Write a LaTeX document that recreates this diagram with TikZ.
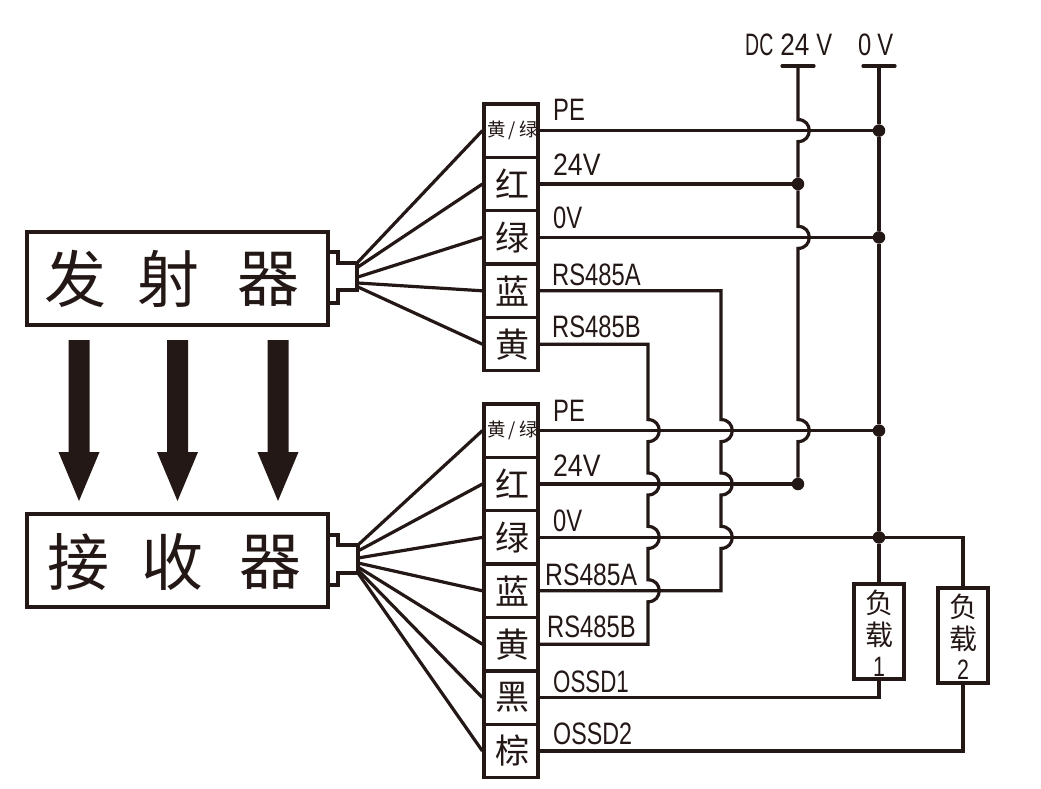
\documentclass[tikz,border=0pt]{standalone}
\usepackage{fontspec}
\usetikzlibrary{calc}
\newfontfamily\cjk{Noto Sans CJK SC}
\newfontfamily\lat[FakeStretch=0.766]{Liberation Sans}
\definecolor{ink}{HTML}{231815}
\newcommand\hp[2]{-- ($(#1 |- #2)+(0,-11)$) .. controls ($(#1 |- #2)+(15,-11)$) and ($(#1 |- #2)+(15,11)$) .. ($(#1 |- #2)+(0,11)$)}
\newcommand\ct[1]{\raisebox{-1.5pt}{\hspace{2pt}#1}}
\newcommand\yg{\raisebox{-0.5pt}{\hspace{3pt}\makebox[0pt]{黄\makebox[14pt]{/}绿}}}
\tikzset{
  wire/.style={draw=ink,line width=3.2pt,line join=miter},
  box/.style={draw=ink,line width=3.2pt,fill=white,inner sep=0pt,text=ink},
  cell/.style={box,minimum width=54pt,minimum height=53.2pt,font=\cjk\fontsize{34}{34}\selectfont},
  small/.style={font=\cjk\fontsize{18.5}{18.5}\selectfont},
  title/.style={text=ink,inner sep=0pt,font=\cjk\fontsize{62}{62}\selectfont},
  lab/.style={text=ink,inner sep=0pt,anchor=west,font=\lat\fontsize{31}{31}\selectfont},
  loadtxt/.style={text=ink,inner sep=0pt,font=\cjk\fontsize{28}{28}\selectfont},
  dot/.style={circle,fill=ink,draw=none,minimum size=12.5pt,inner sep=0pt},
  beam/.style={fill=ink,draw=none}
}
\begin{document}
\begin{tikzpicture}[x=1pt,y=-1pt]
\useasboundingbox (0,0) rectangle (1041,789);
\fill[white] (0,0) rectangle (1041,789);
% emitter / receiver
\node[box,minimum width=301pt,minimum height=93pt] (tx) at (177.5,278.5) {};
\node[box,minimum width=301pt,minimum height=93pt] (rx) at (177.5,560.5) {};
\node[title] (t1) at (75,279) {发};
\node[title] (t2) at (168,279) {射};
\node[title] (t3) at (268,279) {器};
\node[title] (r1) at (78,562) {接};
\node[title] (r2) at (172,562) {收};
\node[title] (r3) at (270,562) {器};
\draw[wire] (tx.east |- 0,252) -- (338,252) -- (338,263) -- (357,263) -- (357,290) -- (338,290) -- (338,303) -- (tx.east |- 0,303);
\draw[wire] (rx.east |- 0,535) -- (338,535) -- (338,545) -- (358,545) -- (358,573) -- (338,573) -- (338,585) -- (rx.east |- 0,585);
% beams
\foreach \x/\n in {79/a,177.5/b,278/c}{
  \fill[beam] (\x-10.5,340) -- (\x+10.5,340) -- (\x+10.5,452) -- (\x+20.5,452) -- (\x,501) -- (\x-20.5,452) -- (\x-10.5,452) -- cycle;
}
% upper stack
\node[cell,small] (a1) at (511,130.6) {\yg};
\node[cell] (a2) at (511,184) {\ct{红}};
\node[cell] (a3) at (511,237.4) {\ct{绿}};
\node[cell] (a4) at (511,290.8) {\ct{蓝}};
\node[cell] (a5) at (511,344.2) {\ct{黄}};
% lower stack
\node[cell,small] (b1) at (511,430.6) {\yg};
\node[cell] (b2) at (511,484) {\ct{红}};
\node[cell] (b3) at (511,537.4) {\ct{绿}};
\node[cell] (b4) at (511,590.8) {\ct{蓝}};
\node[cell] (b5) at (511,644.2) {\ct{黄}};
\node[cell] (b6) at (511,697.6) {\ct{黑}};
\node[cell] (b7) at (511,751) {\ct{棕}};
% fan
\foreach \c/\y in {a1/262,a2/267,a3/277,a4/283,a5/287}{
  \coordinate (f\c) at (358,\y);
  \draw[wire] (f\c) -- (\c.west);
}
\foreach \c/\y in {b1/545,b2/551,b3/558,b4/563,b5/567,b6/570,b7/573}{
  \coordinate (f\c) at (358,\y);
  \draw[wire] (f\c) -- (\c.west);
}
% rail coordinates
\coordinate (rb) at (648,0);
\coordinate (ra) at (721,0);
\coordinate (rp) at (798,66);
\coordinate (rn) at (879,66);
\coordinate (rq) at (963,0);
\node[dot] (d1) at (rn |- a1) {};
\node[dot] (d2) at (rp |- a2) {};
\node[dot] (d3) at (rn |- a3) {};
\node[dot] (d4) at (rn |- b1) {};
\node[dot] (d5) at (rp |- b2) {};
\node[dot] (d6) at (rn |- b3) {};
% loads
\node[box,minimum width=50pt,minimum height=95pt] (l1) at (879,631.5) {};
\node[box,minimum width=50pt,minimum height=95pt] (l2) at (963,635.5) {};
\node[loadtxt] (l1a) at (879,603) {负};
\node[loadtxt] (l1b) at (879,635) {载};
\node[loadtxt] (l1c) at (879,667) {\lat 1};
\node[loadtxt] (l2a) at (963,607) {负};
\node[loadtxt] (l2b) at (963,639) {载};
\node[loadtxt] (l2c) at (963,670) {\lat 2};
% horizontal wires
\draw[wire] (a1.east) -- (d1);
\draw[wire] (a2.east) -- (d2);
\draw[wire] (a3.east) -- (d3);
\draw[wire] (b1.east) -- (d4);
\draw[wire] (b2.east) -- (d5);
\draw[wire] (b3.east) -- (rq |- b3) -- (l2.north);
% rails
\draw[wire] (a4.east) -- (ra |- a4) \hp{ra}{b1} \hp{ra}{b2} \hp{ra}{b3} -- (ra |- b4) -- (b4.east);
\draw[wire] (a5.east) -- (rb |- a5) \hp{rb}{b1} \hp{rb}{b2} \hp{rb}{b3} \hp{rb}{b4} -- (rb |- b5) -- (b5.east);
\draw[wire] (rp) \hp{rp}{a1} -- (d2) \hp{rp}{a3} \hp{rp}{b1} -- (d5);
\draw[wire] (rn) -- (d1) -- (d3) -- (d4) -- (d6) -- (l1.north);
\draw[wire,line cap=round] ($(rp)+(-16,0)$) -- ($(rp)+(16,0)$);
\draw[wire,line cap=round] ($(rn)+(-16,0)$) -- ($(rn)+(16,0)$);
\draw[wire] (b6.east) -- (l1.south |- b6) -- (l1.south);
\draw[wire] (b7.east) -- (l2.south |- b7) -- (l2.south);
% labels
\node[lab] (p1) at (553,110) {PE};
\node[lab] (p2) at (553,165) {\scalebox{1.12}[1]{24V}};
\node[lab] (p3) at (553,218) {0V};
\node[lab] (p4) at (552,275) {RS485A};
\node[lab] (p5) at (552,327) {RS485B};
\node[lab] (q1) at (553,411) {PE};
\node[lab] (q2) at (553,466) {\scalebox{1.12}[1]{24V}};
\node[lab] (q3) at (553,521) {0V};
\node[lab] (q4) at (545,575) {\scalebox{1.04}[1]{RS485A}};
\node[lab] (q5) at (547,627) {RS485B};
\node[lab] (q6) at (553,682) {\scalebox{.94}[1]{OSSD1}};
\node[lab] (q7) at (553,734) {\scalebox{.98}[1]{OSSD2}};
\node[lab] (v1) at (745,45) {\scalebox{.82}[1]{DC}\hspace{7pt}\scalebox{1.1}[1]{24}\hspace{7pt}V};
\node[lab] (v2) at (858,45) {0\hspace{6pt}V};
\end{tikzpicture}
\end{document}
